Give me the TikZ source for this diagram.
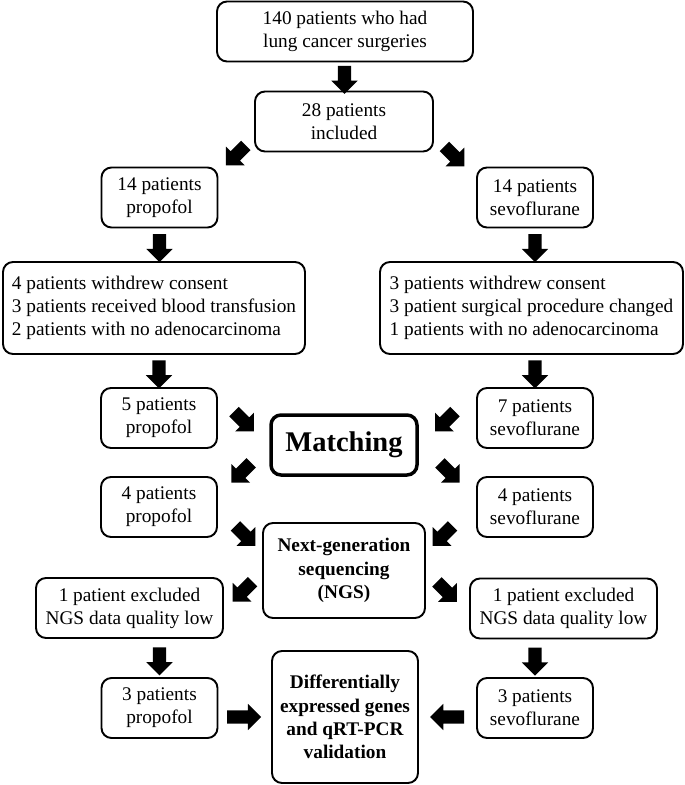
\documentclass[tikz,border=0pt]{standalone}
\usepackage{fontspec}
\setmainfont{Liberation Serif}
\usetikzlibrary{shapes.arrows}

\tikzset{
  box/.style={draw, line width=1.9pt, rounded corners=10pt, align=center,
    inner sep=0pt, minimum width=116pt, minimum height=60pt,
    font=\fontsize{19.3}{23}\selectfont},
  boldbox/.style={box, font=\fontsize{19.3}{23.3}\selectfont\bfseries},
  barrow/.style={single arrow, fill=black, draw=none, inner xsep=0pt,
    inner ysep=6.5pt, single arrow head extend=6.5pt, minimum height=28pt},
  dn/.style={barrow, rotate=-90},
  dl/.style={barrow, rotate=-135},
  dr/.style={barrow, rotate=-45},
  rt/.style={barrow, minimum height=34pt},
  lt/.style={barrow, minimum height=34pt, rotate=180},
}

\begin{document}
\begin{tikzpicture}[x=1pt, y=-1pt]
  \useasboundingbox (0,0) rectangle (685,785);

  % boxes
  \node[box, minimum width=256pt] (surg) at (345,31.5) {140 patients who had\\lung cancer surgeries};
  \node[box, minimum width=178pt] (inc) at (344,121.5) {28 patients\\included};
  \node[box] (pro14) at (159.5,197.5) {14 patients\\propofol};
  \node[box] (sev14) at (535,197.5) {14 patients\\sevoflurane};
  \node[box, align=left, minimum width=302pt, minimum height=92pt] (exclL) at (154,308)
    {4 patients withdrew consent\\3 patients received blood transfusion\\2 patients with no adenocarcinoma};
  \node[box, align=left, minimum width=303pt, minimum height=92pt] (exclR) at (531.5,308)
    {3 patients withdrew consent\\3 patient surgical procedure changed\\1 patients with no adenocarcinoma};
  \node[box] (pro5) at (159,418) {5 patients\\propofol};
  \node[box] (sev7) at (535,418) {7 patients\\sevoflurane};
  \node[box, line width=3.5pt, minimum width=146pt, font=\fontsize{28.5}{30}\selectfont\bfseries] (match) at (344,445) {Matching};
  \node[box] (pro4) at (159,507) {4 patients\\propofol};
  \node[box] (sev4) at (535,507) {4 patients\\sevoflurane};
  \node[boldbox, minimum width=162pt, minimum height=95pt] (ngs) at (344,570.5) {Next-generation\\sequencing\\(NGS)};
  \node[box, minimum width=187pt] (nqL) at (129.5,608) {1 patient excluded\\NGS data quality low};
  \node[box, minimum width=187pt] (nqR) at (563.5,608.5) {1 patient excluded\\NGS data quality low};
  \node[box] (pro3) at (159.5,708) {3 patients\\propofol};
  \node[box] (sev3) at (535,708) {3 patients\\sevoflurane};
  \node[boldbox, minimum width=146pt, minimum height=132pt] (deg) at (345,717)
    {Differentially\\expressed genes\\and qRT-PCR\\validation};

  % block arrows
  \path (surg.south) -- node[dn] {} (inc.north);
  \path (inc.south west) -- node[xshift=2pt, yshift=6.5pt, dl] {} (pro14.north east);
  \path (inc.south east) -- node[xshift=-3pt, yshift=5.5pt, dr] {} (sev14.north west);
  \path (pro14.south) -- node[dn] {} (exclL.north -| pro14);
  \path (sev14.south) -- node[dn] {} (exclR.north -| sev14);
  \path (exclL.south -| pro5) -- node[dn] {} (pro5.north);
  \path (exclR.south -| sev7) -- node[dn] {} (sev7.north);
  \path (pro5.east) -- node[xshift=-2pt, yshift=-3.5pt, dr] {} (match.north west);
  \path (sev7.west) -- node[yshift=-3.5pt, dl] {} (match.north east);
  \path (match.south west) -- node[yshift=6pt, dl] {} (pro4.north east);
  \path (match.south east) -- node[yshift=6pt, dr] {} (sev4.north west);
  \path (pro4.south east) -- node[xshift=3pt, yshift=-3.5pt, dr] {} (ngs.north west);
  \path (sev4.south west) -- node[xshift=-6pt, yshift=-3.5pt, dl] {} (ngs.north east);
  \path (ngs.west) -- node[xshift=2pt, dl] {} (nqL.east);
  \path (ngs.east) -- node[xshift=-3pt, dr] {} (nqR.west);
  \path (nqL.south -| pro3) -- node[dn] {} (pro3.north);
  \path (nqR.south -| sev3) -- node[dn] {} (sev3.north);
  \path (pro3.east |- deg) -- node[xshift=-4pt, rt] {} (deg.west);
  \path (sev3.west |- deg) -- node[xshift=3pt, lt] {} (deg.east);
\end{tikzpicture}
\end{document}
